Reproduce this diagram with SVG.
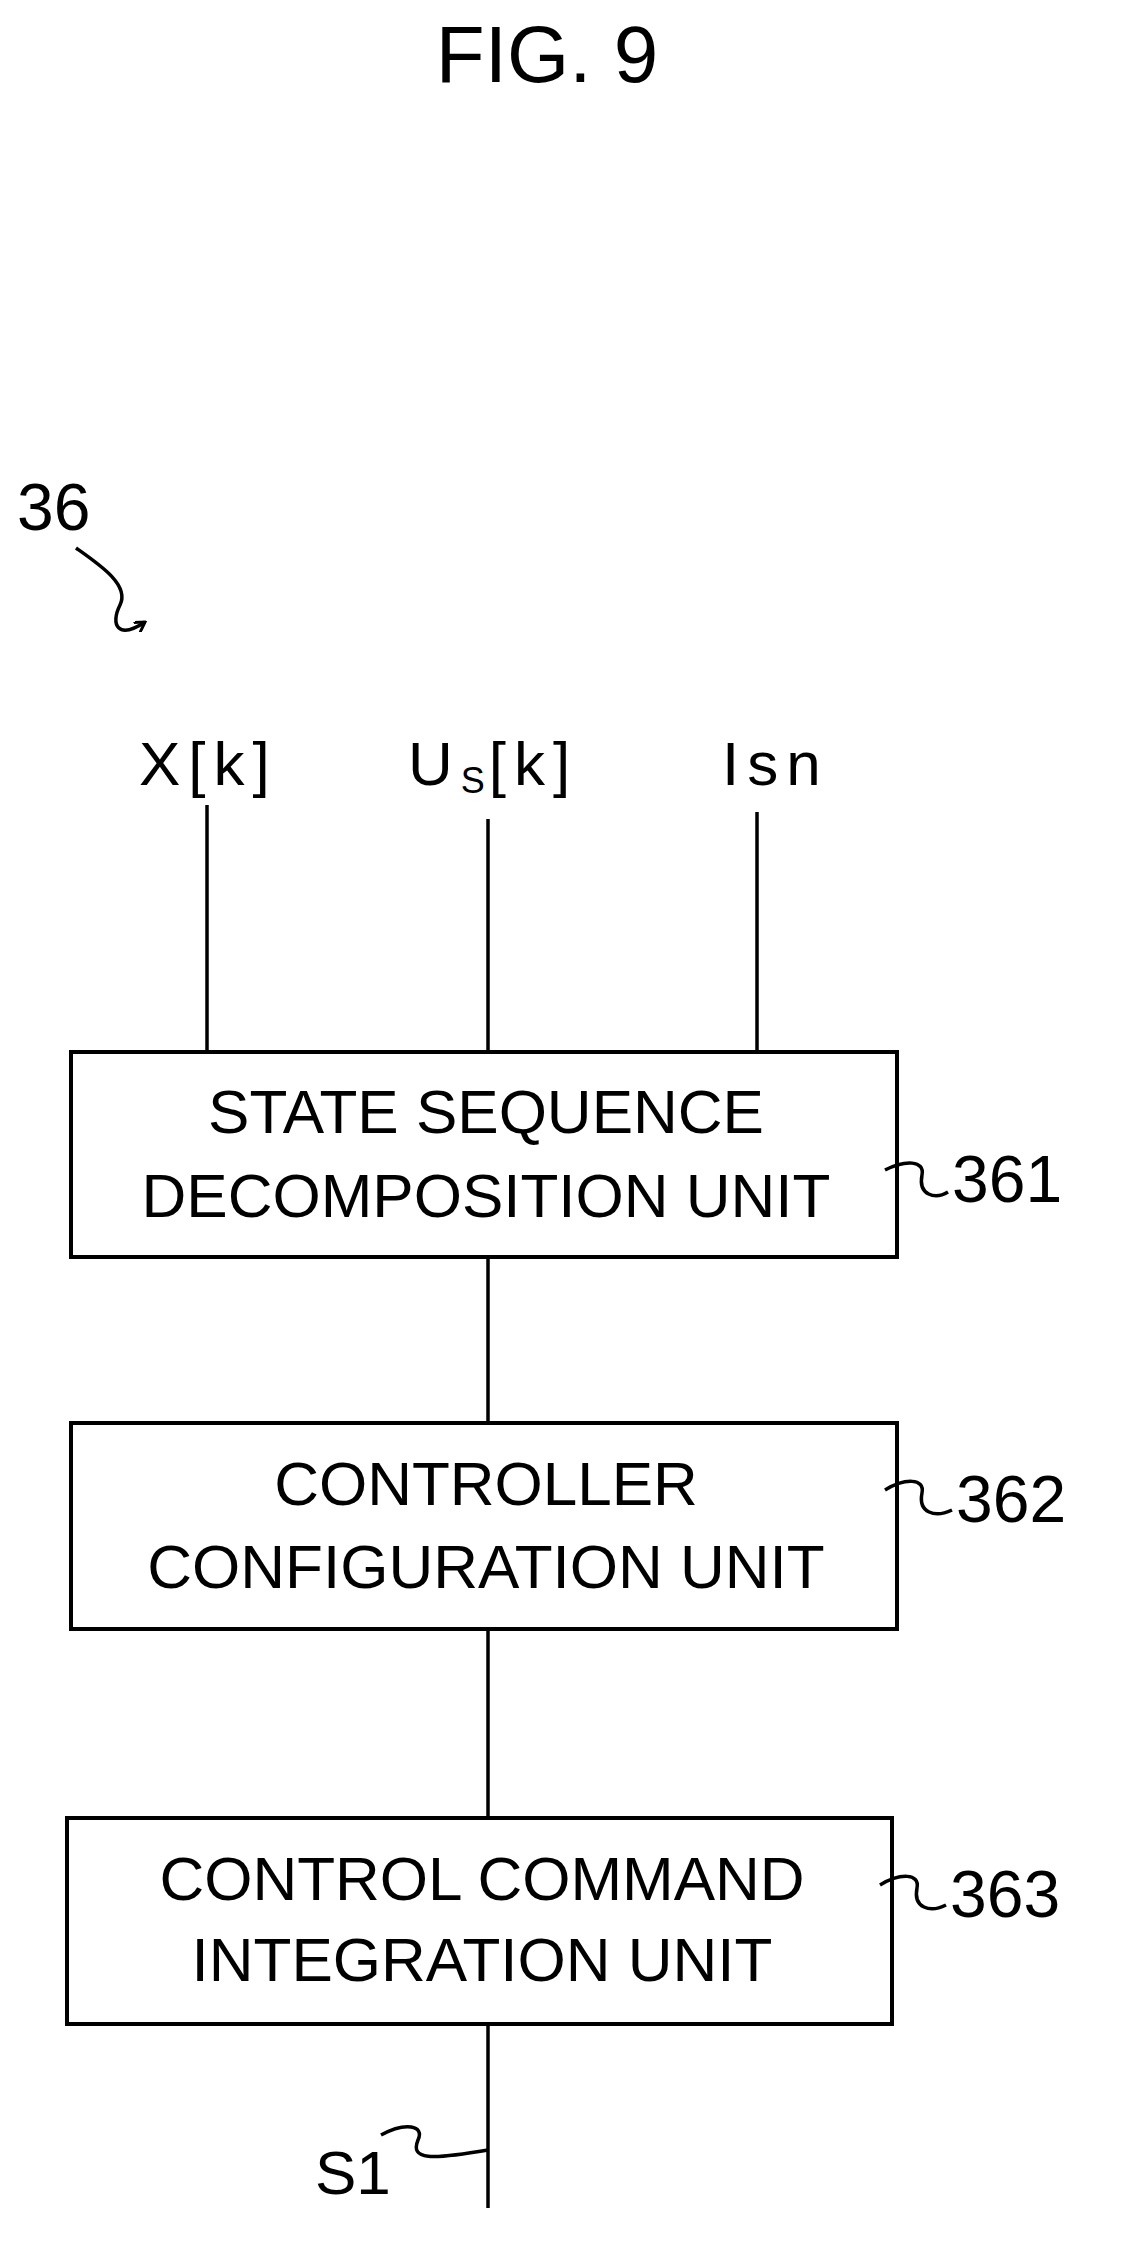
<svg xmlns="http://www.w3.org/2000/svg" width="1133" height="2261" viewBox="0 0 1133 2261">
<style>
text{font-family:"Liberation Sans",Arial,sans-serif;fill:#000}
.t{font-size:62px;text-anchor:middle}
.l{font-size:62px;letter-spacing:8px}
.box{fill:#fff;stroke:#000;stroke-width:4}
.ln{fill:none;stroke:#000;stroke-width:3.5}
</style>
<defs><marker id="ah" markerWidth="12" markerHeight="12" refX="10" refY="6" orient="auto" markerUnits="userSpaceOnUse"><path d="M0,0 L10,6 L0,12" fill="none" stroke="#000" stroke-width="3"/></marker></defs>
<rect width="1133" height="2261" fill="#fff"/>
<text x="547" y="82" style="font-size:80px;text-anchor:middle">FIG. 9</text>
<g id="ref36"><text x="17" y="530" style="font-size:66px">36</text>
<path class="ln" d="M76,548 C100,565 130,585 120,605 C110,625 118,640 145,622" marker-end="url(#ah)"/></g>
<g id="inputs">
<text class="l" x="139" y="785">X[k]</text>
<text class="l" x="408" y="785">U<tspan style="font-size:36px;letter-spacing:4px" dy="8">S</tspan><tspan dy="-8">[k]</tspan></text>
<text class="l" x="722" y="785">Isn</text>
</g>
<g id="connectors">
<line class="ln" x1="207" y1="805" x2="207" y2="1052"/>
<line class="ln" x1="488" y1="819" x2="488" y2="1052"/>
<line class="ln" x1="757" y1="812" x2="757" y2="1052"/>
<line class="ln" x1="488" y1="1257" x2="488" y2="1423"/>
<line class="ln" x1="488" y1="1629" x2="488" y2="1818"/>
<line class="ln" x1="488" y1="2024" x2="488" y2="2208"/>
</g>
<g id="n361"><rect class="box" x="71" y="1052" width="826" height="205"/>
<text class="t" x="486" y="1133">STATE SEQUENCE</text>
<text class="t" x="486" y="1217">DECOMPOSITION UNIT</text>
<path class="ln" d="M885,1170 C905,1160 925,1160 922,1175 C918,1195 935,1200 948,1192"/>
<text x="952" y="1202" style="font-size:66px">361</text></g>
<g id="n362"><rect class="box" x="71" y="1423" width="826" height="206"/>
<text class="t" x="486" y="1505">CONTROLLER</text>
<text class="t" x="486" y="1588">CONFIGURATION UNIT</text>
<path class="ln" d="M885,1490 C905,1478 925,1478 922,1493 C918,1513 935,1518 952,1510"/>
<text x="956" y="1522" style="font-size:66px">362</text></g>
<g id="n363"><rect class="box" x="67" y="1818" width="825" height="206"/>
<text class="t" x="482" y="1900">CONTROL COMMAND</text>
<text class="t" x="482" y="1981">INTEGRATION UNIT</text>
<path class="ln" d="M880,1885 C900,1873 920,1873 917,1888 C913,1908 930,1913 946,1905"/>
<text x="950" y="1917" style="font-size:66px">363</text></g>
<g id="s1"><text x="315" y="2194" style="font-size:62px">S1</text>
<path class="ln" d="M381,2135 C405,2122 425,2125 418,2140 C410,2160 430,2160 488,2150"/></g>
</svg>
